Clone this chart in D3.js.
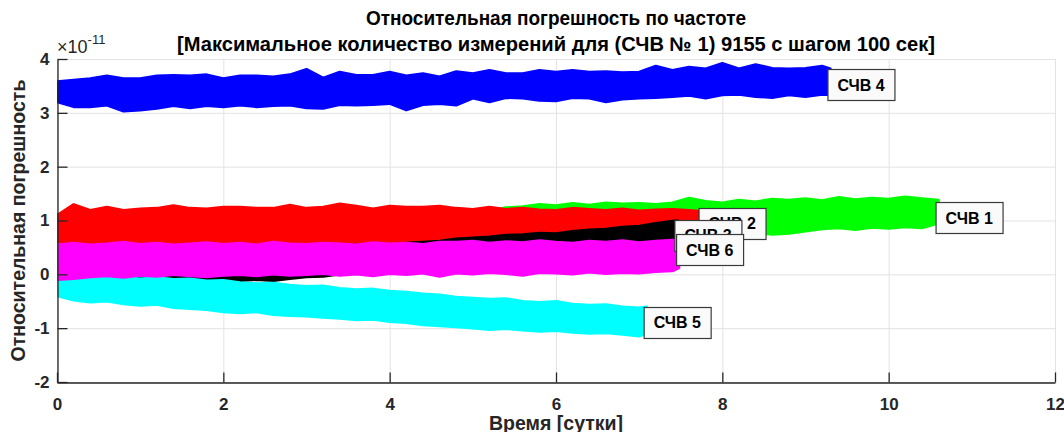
<!DOCTYPE html>
<html>
<head>
<meta charset="utf-8">
<script src="https://cdn.jsdelivr.net/npm/d3@7"></script>
<style>
  body { margin: 0; background: #fff; }
  svg { display: block; font-family: "Liberation Sans", Arial, sans-serif; }
</style>
</head>
<body>
<svg id="chart" width="1064" height="432"></svg>
<script>
// Sample instants (days) at which the envelope of each noisy record is given
const sampleDays = [0, 0.2, 0.4, 0.6, 0.8, 1.0, 1.2, 1.4, 1.6, 1.8, 2.0, 2.2, 2.4, 2.6, 2.8,
  3.0, 3.2, 3.4, 3.6, 3.8, 4.0, 4.2, 4.4, 4.6, 4.8, 5.0, 5.2, 5.4, 5.6, 5.8, 6.0, 6.2, 6.4,
  6.6, 6.8, 7.0, 7.2, 7.4, 7.6, 7.8, 8.0, 8.2, 8.4, 8.6, 8.8, 9.0, 9.2, 9.4, 9.6, 9.8, 10.0,
  10.2, 10.4, 10.6];

// Series identity, in plotting order (later ones are drawn on top)
const seriesNames = ["СЧВ 1", "СЧВ 2", "СЧВ 3", "СЧВ 4", "СЧВ 5", "СЧВ 6"];
const seriesColors = ["#00ff00", "#ff0000", "#000000", "#0000ff", "#00ffff", "#ff00ff"];
// Last time instant of each record (days) and its last value (×1e-11)
const endDays = [10.6, 7.75, 7.46, 9.3, 7.09, 7.48];
const lastValues = [1.05, 0.94, 0.73, 3.52, -0.89, 0.455];

// Upper / lower envelopes of each record (×1e-11), one value per sample instant,
// the final value belonging to the record's last instant
const upper1 = [0.95, 0.98, 1.00, 0.99, 1.01, 1.02, 1.00, 1.03, 1.05, 1.04, 1.06, 1.05, 1.08, 1.07,
  1.09, 1.10, 1.08, 1.11, 1.12, 1.10, 1.13, 1.15, 1.14, 1.16, 1.17, 1.15, 1.18,
  1.24, 1.26, 1.30, 1.28, 1.32, 1.29, 1.33, 1.31, 1.32, 1.30, 1.33, 1.42, 1.36, 1.33, 1.38,
  1.35, 1.40, 1.38, 1.41, 1.37, 1.43, 1.39, 1.42, 1.40, 1.44, 1.41, 1.38];
const lower1 = [0.35, 0.37, 0.38, 0.36, 0.40, 0.39, 0.41, 0.40, 0.43, 0.42, 0.44, 0.43, 0.46, 0.45,
  0.47, 0.48, 0.46, 0.49, 0.50, 0.48, 0.51, 0.53, 0.52, 0.54, 0.55, 0.53, 0.56,
  0.58, 0.60, 0.61, 0.63, 0.62, 0.65, 0.66, 0.68, 0.67, 0.70, 0.71, 0.72, 0.74, 0.76, 0.75,
  0.77, 0.74, 0.76, 0.80, 0.84, 0.86, 0.83, 0.87, 0.85, 0.88, 0.86, 0.95];

const upper2 = [1.10, 1.30, 1.19, 1.25, 1.19, 1.22, 1.23, 1.28, 1.23, 1.22, 1.25, 1.25, 1.23, 1.23,
  1.29, 1.23, 1.25, 1.31, 1.27, 1.22, 1.27, 1.25, 1.25, 1.27,
  1.23, 1.21, 1.25, 1.21, 1.23, 1.20, 1.19, 1.23, 1.21, 1.19, 1.22, 1.18, 1.20, 1.21, 1.19, 1.17];
const lower2 = [0.60, 0.55, 0.52, 0.56, 0.54, 0.57, 0.53, 0.55, 0.56, 0.52, 0.55, 0.57, 0.54, 0.56,
  0.53, 0.55, 0.58, 0.54, 0.56, 0.55, 0.57, 0.55, 0.58, 0.56,
  0.58, 0.57, 0.60, 0.58, 0.59, 0.61, 0.60, 0.62, 0.60, 0.63, 0.62, 0.64, 0.63, 0.65, 0.64, 0.66];

const upper3 = [0.42, 0.44, 0.43, 0.45, 0.46, 0.45, 0.47, 0.48, 0.47, 0.49, 0.50, 0.49, 0.51, 0.52,
  0.51, 0.53, 0.54, 0.53, 0.55, 0.56, 0.55, 0.58, 0.60, 0.62,
  0.66, 0.68, 0.70, 0.73, 0.74, 0.77, 0.76, 0.80, 0.83, 0.84, 0.88, 0.90, 0.95, 0.99, 1.00];
const lower3 = [-0.02, -0.03, -0.04, -0.03, -0.05, -0.06, -0.05, -0.09, -0.10, -0.12, -0.11, -0.12,
  -0.10, -0.12, -0.08, -0.05, -0.04, 0.00, 0.02, 0.03, 0.05, 0.07, 0.08, 0.10,
  0.13, 0.16, 0.18, 0.21, 0.24, 0.26, 0.28, 0.32, 0.34, 0.37, 0.40, 0.42, 0.45, 0.48, 0.50];

const upper4 = [3.58, 3.61, 3.64, 3.69, 3.64, 3.64, 3.69, 3.70, 3.69, 3.71, 3.64, 3.69, 3.69, 3.67,
  3.71, 3.81, 3.65, 3.76, 3.70, 3.70, 3.76, 3.69, 3.73, 3.67,
  3.77, 3.73, 3.79, 3.73, 3.73, 3.79, 3.76, 3.79, 3.76, 3.77, 3.75, 3.76, 3.87, 3.79, 3.85,
  3.82, 3.92, 3.82, 3.90, 3.83, 3.82, 3.83, 3.87, 3.82];
const lower4 = [3.20, 3.11, 3.11, 3.14, 3.03, 3.05, 3.08, 3.13, 3.09, 3.13, 3.11, 3.14, 3.11, 3.13,
  3.14, 3.09, 3.08, 3.15, 3.14, 3.15, 3.17, 3.05, 3.15, 3.17,
  3.14, 3.27, 3.20, 3.28, 3.27, 3.23, 3.22, 3.28, 3.27, 3.20, 3.25, 3.27, 3.28, 3.30, 3.32,
  3.27, 3.33, 3.34, 3.30, 3.28, 3.33, 3.30, 3.34, 3.33];

const upper5 = [-0.08, -0.05, -0.03, -0.06, -0.05, -0.08, -0.06, -0.09, -0.08, -0.12, -0.11, -0.15,
  -0.17, -0.16, -0.20, -0.22, -0.21, -0.26, -0.28, -0.27, -0.31, -0.33, -0.36, -0.38,
  -0.42, -0.44, -0.46, -0.45, -0.50, -0.52, -0.50, -0.55, -0.57, -0.56, -0.60, -0.62, -0.60];
const lower5 = [-0.40, -0.48, -0.52, -0.50, -0.55, -0.58, -0.56, -0.62, -0.64, -0.66, -0.70, -0.72,
  -0.70, -0.75, -0.77, -0.78, -0.80, -0.82, -0.85, -0.84, -0.88, -0.90, -0.94, -0.96,
  -0.98, -1.00, -1.03, -1.01, -1.04, -1.06, -1.05, -1.08, -1.10, -1.09, -1.12, -1.15, -1.10];

const upper6 = [0.55, 0.58, 0.55, 0.57, 0.60, 0.56, 0.58, 0.55, 0.57, 0.59, 0.56, 0.58, 0.55, 0.60,
  0.57, 0.56, 0.58, 0.57, 0.55, 0.59, 0.57, 0.58, 0.56, 0.60,
  0.60, 0.62, 0.58, 0.61, 0.59, 0.63, 0.60, 0.58, 0.62, 0.60, 0.63, 0.59, 0.62, 0.64, 0.62];
const lower6 = [-0.10, -0.08, -0.05, -0.03, -0.06, -0.02, -0.04, -0.01, -0.03, -0.05, -0.02, -0.01,
  -0.03, 0.00, -0.02, -0.01, 0.01, -0.02, 0.00, -0.03, 0.01, -0.01, 0.02, -0.04,
  0.02, 0.00, 0.03, 0.01, -0.02, 0.03, 0.02, 0.00, 0.04, 0.01, 0.03, 0.02, 0.05, 0.06, 0.12];

const uppers = [upper1, upper2, upper3, upper4, upper5, upper6];
const lowers = [lower1, lower2, lower3, lower4, lower5, lower6];

// Axis ticks
const xTicks = [0, 2, 4, 6, 8, 10, 12];
const yTicks = [-2, -1, 0, 1, 2, 3, 4];

const titleLines = [
  "Относительная погрешность по частоте",
  "[Максимальное количество измерений для (СЧВ № 1) 9155 с шагом 100 сек]"
];
const xLabel = "Время [сутки]";
const yLabel = "Относительная погрешность";

// ---------------------------------------------------------------------------
const svg = d3.select("#chart");
const plot = { left: 57, right: 1055, top: 59, bottom: 382 };

const x = d3.scaleLinear().domain([0, 12]).range([plot.left, plot.right]);
const y = d3.scaleLinear().domain([-2, 4]).range([plot.bottom, plot.top]);

svg.append("rect").attr("width", 1064).attr("height", 432).attr("fill", "#fff");

// Grid
const grid = svg.append("g").attr("stroke", "#e3e3e3").attr("stroke-width", 1);
grid.selectAll("line.gx").data(xTicks).join("line")
  .attr("x1", d => x(d) + 0.5).attr("x2", d => x(d) + 0.5)
  .attr("y1", plot.top).attr("y2", plot.bottom);
grid.selectAll("line.gy").data(yTicks).join("line")
  .attr("x1", plot.left).attr("x2", plot.right)
  .attr("y1", d => y(d) + 0.5).attr("y2", d => y(d) + 0.5);

// Clip region for the data
svg.append("clipPath").attr("id", "plotClip")
  .append("rect").attr("x", plot.left).attr("y", plot.top)
  .attr("width", plot.right - plot.left).attr("height", plot.bottom - plot.top);

// Build each record's envelope points
const series = seriesNames.map((name, i) => {
  const up = uppers[i], lo = lowers[i];
  const times = sampleDays.filter(t => t < endDays[i] - 1e-9).slice(0, up.length - 1);
  times.push(endDays[i]);
  return {
    name, color: seriesColors[i], end: endDays[i], last: lastValues[i],
    points: times.map((t, k) => ({ t, hi: up[k], lo: lo[k] }))
  };
});

const band = d3.area()
  .x(d => x(d.t))
  .y0(d => y(d.lo))
  .y1(d => y(d.hi))
  .curve(d3.curveLinear);

const dataLayer = svg.append("g").attr("clip-path", "url(#plotClip)");
dataLayer.selectAll("path.band").data(series).join("path")
  .attr("class", "band")
  .attr("d", d => band(d.points))
  .attr("fill", d => d.color)
  .attr("stroke", d => d.color)
  .attr("stroke-width", 2.5)
  .attr("stroke-linejoin", "round");

// Axes
const axisColor = "#262626";
const yAxis = d3.axisLeft(y).tickValues(yTicks).tickFormat(d => String(d))
  .tickSizeInner(-10).tickSizeOuter(0).tickPadding(8);
const xAxis = d3.axisBottom(x).tickValues(xTicks).tickFormat(d => String(d))
  .tickSizeInner(-10).tickSizeOuter(0).tickPadding(15);

const gy = svg.append("g").attr("transform", `translate(${plot.left + 0.5},0)`).call(yAxis);
const gx = svg.append("g").attr("transform", `translate(0,${plot.bottom + 0.5})`).call(xAxis);
[gx, gy].forEach(g => {
  g.select(".domain").attr("stroke", axisColor).attr("stroke-width", 1.3);
  g.selectAll(".tick line").attr("stroke", axisColor).attr("stroke-width", 1.3);
  g.selectAll(".tick text")
    .attr("fill", axisColor)
    .style("font-family", "'Liberation Sans', Arial, sans-serif")
    .style("font-size", "17px").style("font-weight", "bold");
});

// Exponent marker
const expo = svg.append("text").attr("x", 57).attr("y", 53)
  .attr("fill", axisColor).style("font-size", "18px");
expo.append("tspan").text("×10");
expo.append("tspan").attr("dy", -9).style("font-size", "13px").text("-11");

// Record labels
const labels = svg.append("g");
series.forEach(s => {
  const g = labels.append("g");
  const t = g.append("text")
    .attr("x", x(s.end) - 3 + 10)
    .attr("y", y(s.last))
    .attr("dy", "0.36em")
    .attr("fill", "#000")
    .style("font-size", "16px").style("font-weight", "bold")
    .text(s.name);
  const bb = t.node().getBBox();
  g.insert("rect", "text")
    .attr("x", x(s.end) - 3 + 0.5)
    .attr("y", Math.round(y(s.last) - 15.5) + 0.5)
    .attr("width", Math.round(bb.width + 20))
    .attr("height", 31)
    .attr("fill", "#fafafa")
    .attr("stroke", "#3a3a3a")
    .attr("stroke-width", 1.2);
});

// Titles
const titleWidths = [380, 758];
const title = svg.append("g").attr("fill", "#000")
  .style("font-weight", "bold").style("font-size", "19.5px");
title.selectAll("text").data(titleLines).join("text")
  .attr("x", (plot.left + plot.right) / 2)
  .attr("y", (d, i) => 25 + i * 26)
  .attr("text-anchor", "middle")
  .attr("textLength", (d, i) => titleWidths[i])
  .attr("lengthAdjust", "spacingAndGlyphs")
  .text(d => d);

svg.append("text")
  .attr("x", (plot.left + plot.right) / 2).attr("y", 430)
  .attr("text-anchor", "middle").attr("fill", axisColor)
  .style("font-weight", "bold").style("font-size", "19.5px")
  .text(xLabel);

svg.append("text")
  .attr("transform", `translate(25,${(plot.top + plot.bottom) / 2}) rotate(-90)`)
  .attr("text-anchor", "middle").attr("fill", axisColor)
  .style("font-weight", "bold").style("font-size", "19.5px")
  .text(yLabel);
</script>
</body>
</html>
